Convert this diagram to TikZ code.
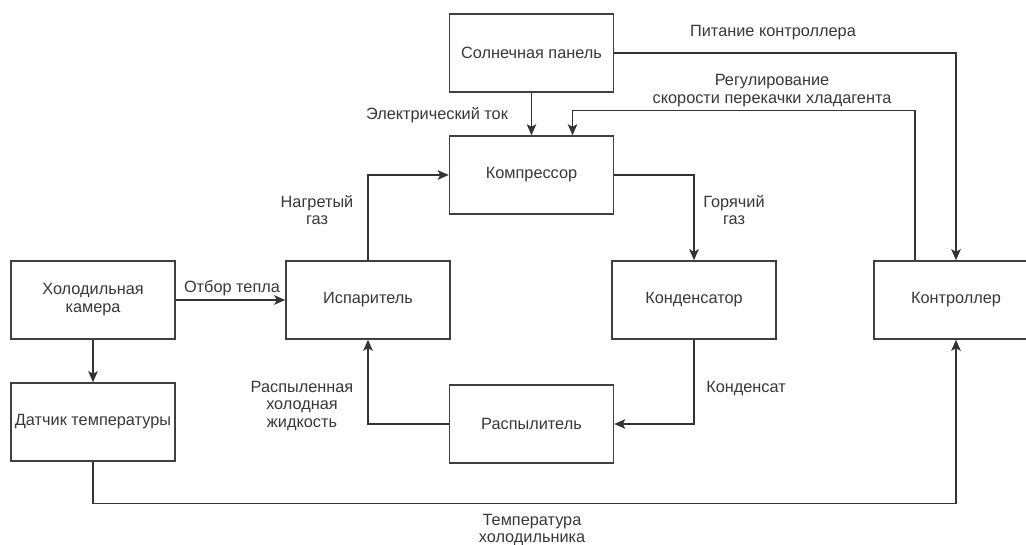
\documentclass[tikz,border=0pt]{standalone}
\usepackage{fontspec}
\setmainfont{Liberation Sans}
\usetikzlibrary{arrows.meta}
\begin{document}
\begin{tikzpicture}[x=1pt,y=-1pt,
 box/.style={draw=black!75, line width=1.5pt, minimum width=164pt, minimum height=78pt, inner sep=0pt, align=center, font=\fontsize{16.3}{18}\selectfont, text=black!78},
 conn/.style={draw=black!80, line width=1.4pt, -{Stealth[length=11pt,width=9.5pt,inset=2.5pt]}},
 lbl/.style={align=center, font=\fontsize{16.3}{17.5}\selectfont, text=black!78, inner sep=0pt}]
\useasboundingbox (0,0) rectangle (1026,545);
\fill[white] (0,0) rectangle (1026,545);
\clip (0,0) rectangle (1026,545);
\node[box] (panel) at (531.5,53) {Солнечная панель};
\node[box] (comp) at (531.5,175) {Компрессор};
\node[box] (cold) at (93,300) {Холодильная\\камера};
\node[box] (evap) at (368,300) {Испаритель};
\node[box] (cond) at (694,300) {Конденсатор};
\node[box] (ctrl) at (956,300) {Контроллер};
\node[box] (sensor) at (93,422) {Датчик температуры};
\node[box] (spray) at (531.5,424) {Распылитель};

\draw[conn] (panel.south) -- (comp.north);
\draw[conn] (panel.east) -| (ctrl.north);
\draw[conn] ([xshift=-41pt]ctrl.north) -- ++(0,-150) -| ([xshift=41pt]comp.north);
\draw[conn] (comp.east) -| (cond.north);
\draw[conn] (cond.south) |- (spray.east);
\draw[conn] (spray.west) -| (evap.south);
\draw[conn] (evap.north) |- (comp.west);
\draw[conn] (cold.east) -- (evap.west);
\draw[conn] (cold.south) -- (sensor.north);
\draw[conn] (sensor.south) -- ++(0,42) -| (ctrl.south);

\node[lbl] (l1) at (437,115) {Электрический ток};
\node[lbl] (l2) at (773,33) {Питание контроллера};
\node[lbl] (l3) at (772,90.5) {Регулирование\\скорости перекачки хладагента};
\node[lbl] (l4) at (734,210) {Горячий\\газ};
\node[lbl] (l5) at (746,389) {Конденсат};
\node[lbl] (l6) at (302,406) {Распыленная\\холодная\\жидкость};
\node[lbl] (l7) at (317,210) {Нагретый\\газ};
\node[lbl] (l8) at (232,288) {Отбор тепла};
\node[lbl] (l9) at (532,530) {Температура\\холодильника};
\end{tikzpicture}
\end{document}
